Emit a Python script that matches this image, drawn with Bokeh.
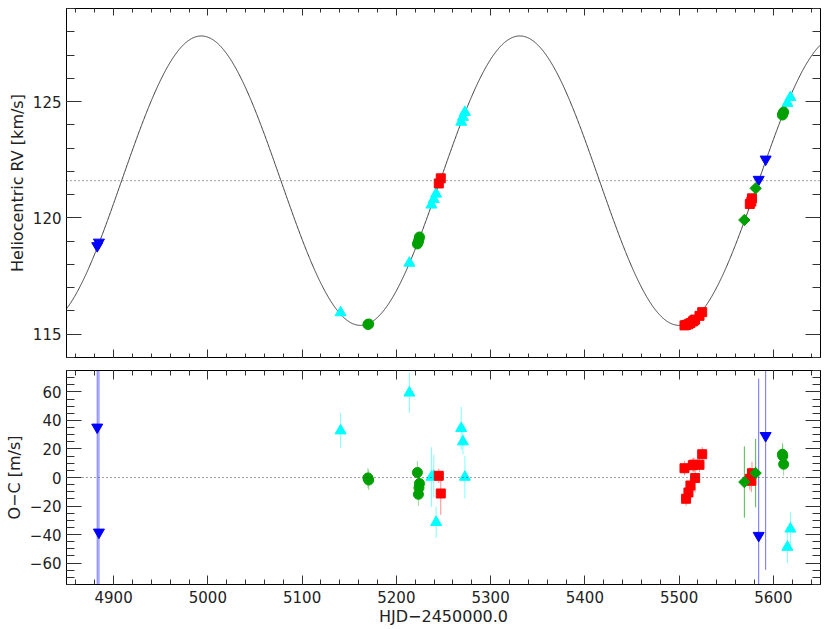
import numpy as np
from bokeh.plotting import figure
from bokeh.models import (LinearAxis, SingleIntervalTicker, CustomJSTickFormatter,
                          Range1d, Span)
from bokeh.layouts import column
from bokeh.embed import file_html
from bokeh.resources import INLINE

# ---------------- orbital solution (model curve) ----------------
P_ORB = 338.0      # days
K_ORB = 6.22       # km/s
GAMMA = 121.6      # km/s
T_MAX = 4993.0     # HJD-2450000 of maximum RV

# ---------------- data (HJD-2450000, RV km/s, O-C m/s, err m/s) ----------------
# blue inverted triangles
t_blue = [4882.6, 4884.4, 5584.4, 5591.8]
rv_blue = [118.80, 118.95, 121.65, 122.52]
oc_blue = [35.2, -38.4, -40.7, 29.3]
err_blue = [150, 150, 110, 94]

# cyan triangles
t_cyan = [5140.8, 5213.8, 5237.2, 5239.7, 5242.2, 5268.8, 5270.6, 5272.7, 5614.9, 5618.1]
rv_cyan = [115.93, 118.06, 120.56, 120.80, 121.03, 124.12, 124.33, 124.54, 124.93, 125.18]
oc_cyan = [32.8, 59.3, 0.3, 1.0, -31.4, 34.5, 25.1, 0.3, -48.8, -36.0]
err_cyan = [12, 14, 21, 15, 11, 15, 9, 15, 11, 12]

# green circles
t_gcirc = [5169.8, 5170.6, 5222.3, 5223.4, 5224.0, 5224.5, 5609.6, 5610.0, 5610.9]
rv_gcirc = [115.42, 115.44, 118.88, 118.98, 119.08, 119.18, 124.42, 124.47, 124.55]
oc_gcirc = [-0.3, -1.8, 3.5, -11.8, -7.2, -4.2, 16.3, 15.1, 9.3]
err_gcirc = [7, 7, 8, 8, 8, 8, 8, 8, 8]

# red squares
t_red = [5245.0, 5247.1, 5505.7, 5507.4, 5509.9, 5512.0, 5514.6, 5515.6, 5517.0,
         5521.6, 5524.5, 5575.0, 5576.6, 5577.3]
rv_red = [121.48, 121.70, 115.38, 115.40, 115.43, 115.48, 115.55, 115.59, 115.63,
          115.79, 115.95, 120.60, 120.70, 120.84]
oc_red = [1.2, -11.2, 6.5, -14.9, -10.5, -5.6, 8.6, 9.0, -0.4,
          8.9, 16.3, -0.9, -2.3, 3.0]
err_red = [5, 15, 5, 5, 5, 5, 5, 5, 10, 5, 5, 8, 8, 8]

# green diamonds
t_gdia = [5569.2, 5581.2]
rv_gdia = [119.91, 121.27]
oc_gdia = [-3.2, 3.1]
err_gdia = [25, 24]

X_RANGE = (4850, 5650)
RV_RANGE = (114, 129)
OC_RANGE = (-75, 75)

FONT = "DejaVu Sans"
TXT = "#222222"


def style_axis(ax, major_in, minor_in, labels=True):
    ax.major_tick_in = int(major_in)
    ax.major_tick_out = 0
    ax.minor_tick_in = int(minor_in)
    ax.minor_tick_out = 0
    ax.axis_line_color = "black"
    ax.major_tick_line_color = "#333333"
    ax.minor_tick_line_color = "#333333"
    ax.major_label_text_font = FONT
    ax.major_label_text_font_size = "15px"
    ax.major_label_text_color = TXT
    ax.axis_label_text_font = FONT
    ax.axis_label_text_font_style = "normal"
    ax.axis_label_text_font_size = "16px"
    ax.axis_label_text_color = TXT
    if not labels:
        ax.formatter = CustomJSTickFormatter(code="return ''")
        ax.major_label_text_font_size = "0px"
        ax.major_label_standoff = 0


def make_fig(yr, fh, top, bottom):
    p = figure(x_range=Range1d(*X_RANGE), y_range=Range1d(*yr),
               frame_width=754, frame_height=fh,
               min_border_left=66, min_border_right=5,
               min_border_top=top, min_border_bottom=bottom,
               output_backend="svg", toolbar_location=None)
    p.xgrid.visible = False
    p.ygrid.visible = False
    p.outline_line_color = "black"
    p.background_fill_color = "white"
    p.border_fill_color = "white"
    return p


def add_mirrors(p, xtick, ytick, xin, yin):
    top = LinearAxis(ticker=xtick)
    style_axis(top, xin[0], xin[1], labels=False)
    p.add_layout(top, "above")
    right = LinearAxis(ticker=ytick)
    style_axis(right, yin[0], yin[1], labels=False)
    p.add_layout(right, "right")


def diamond_like(p, t, y):
    p.scatter(t, y, marker="square", size=8, angle=np.pi / 4, color="#00a000")


# ---------------- top panel ----------------
p1 = make_fig(RV_RANGE, 349, 8, 6)
p1.xaxis[0].ticker = SingleIntervalTicker(interval=100, num_minor_ticks=5)
p1.yaxis[0].ticker = SingleIntervalTicker(interval=5, num_minor_ticks=5)
style_axis(p1.xaxis[0], 8, 4, labels=False)
style_axis(p1.yaxis[0], 15, 8)
p1.yaxis[0].axis_label = "Heliocentric RV [km/s]"
p1.yaxis[0].major_label_standoff = 5
p1.yaxis[0].axis_label_standoff = 3
add_mirrors(p1, SingleIntervalTicker(interval=100, num_minor_ticks=5),
            SingleIntervalTicker(interval=5, num_minor_ticks=5), (7, 4), (15, 8))

p1.add_layout(Span(location=GAMMA, dimension="width", line_color="#444444",
                   line_width=1, line_dash="1 3"))
t_model = np.linspace(X_RANGE[0], X_RANGE[1], 1601)
v_model = GAMMA + K_ORB * np.cos(2 * np.pi * (t_model - T_MAX) / P_ORB)
p1.line(t_model, v_model, line_color="#404040", line_width=1)

p1.scatter(t_blue, rv_blue, marker="inverted_triangle", size=11, color="#0000ff")
p1.scatter(t_cyan, rv_cyan, marker="triangle", size=11, color="#00ffff")
p1.scatter(t_gcirc, rv_gcirc, marker="circle", size=10, color="#00a000")
p1.scatter(t_red, rv_red, marker="square", size=9, color="#ff0000")
diamond_like(p1, t_gdia, rv_gdia)

# ---------------- bottom panel ----------------
p2 = make_fig(OC_RANGE, 214, 7, 44)
p2.xaxis[0].ticker = SingleIntervalTicker(interval=100, num_minor_ticks=5)
p2.yaxis[0].ticker = SingleIntervalTicker(interval=20, num_minor_ticks=4)
style_axis(p2.xaxis[0], 9, 5)
style_axis(p2.yaxis[0], 15, 8)
p2.xaxis[0].axis_label = "HJD\u22122450000.0"
p2.xaxis[0].major_label_standoff = 6
p2.xaxis[0].axis_label_standoff = 1
p2.yaxis[0].axis_label = "O\u2212C [m/s]"
p2.yaxis[0].major_label_standoff = 5
p2.yaxis[0].axis_label_standoff = 3
p2.yaxis[0].formatter = CustomJSTickFormatter(
    code="return tick < 0 ? '\u2212' + Math.abs(tick) : '' + tick;")
add_mirrors(p2, SingleIntervalTicker(interval=100, num_minor_ticks=5),
            SingleIntervalTicker(interval=20, num_minor_ticks=4), (9, 5), (15, 8))

p2.add_layout(Span(location=0, dimension="width", line_color="#444444",
                   line_width=1, line_dash="1 3"))


def errbars(t, oc, err, color, alpha):
    lo = [o - e for o, e in zip(oc, err)]
    hi = [o + e for o, e in zip(oc, err)]
    p2.segment(t, lo, t, hi, line_color=color, line_alpha=alpha, line_width=1)


errbars(t_blue, oc_blue, err_blue, "#3030ff", 0.7)
errbars(t_cyan, oc_cyan, err_cyan, "#00ffff", 0.5)
errbars(t_gcirc, oc_gcirc, err_gcirc, "#00a000", 0.4)
errbars(t_red, oc_red, err_red, "#ff0000", 0.45)
errbars(t_gdia, oc_gdia, err_gdia, "#00a000", 0.7)

p2.scatter(t_blue, oc_blue, marker="inverted_triangle", size=11, color="#0000ff")
p2.scatter(t_cyan, oc_cyan, marker="triangle", size=11, color="#00ffff")
p2.scatter(t_gcirc, oc_gcirc, marker="circle", size=10, color="#00a000")
p2.scatter(t_red, oc_red, marker="square", size=9, color="#ff0000")
diamond_like(p2, t_gdia, oc_gdia)

layout = column(p1, p2, spacing=0)
open("out.html", "w").write(file_html(layout, INLINE))
